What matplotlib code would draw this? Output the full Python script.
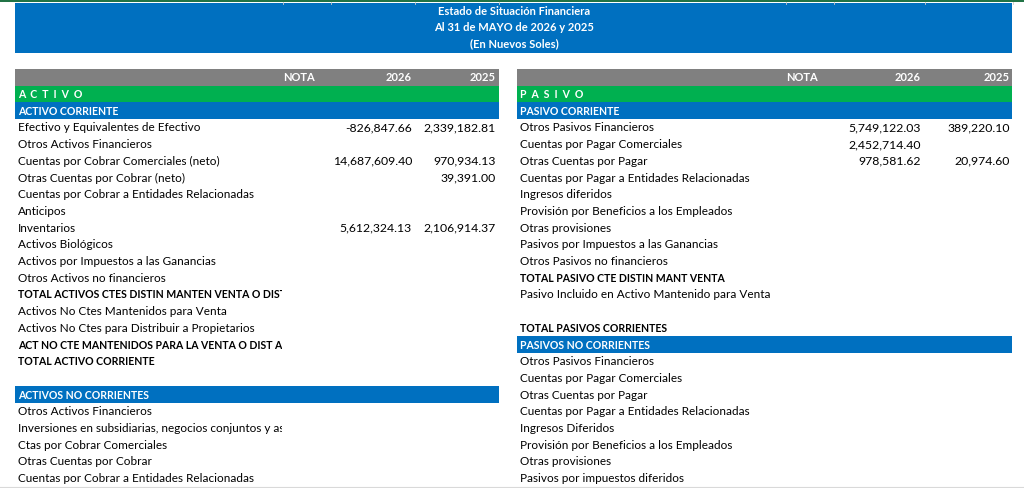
import matplotlib
matplotlib.use("Agg")
import matplotlib.pyplot as plt
from matplotlib.patches import Rectangle
from matplotlib.transforms import Bbox, TransformedBbox

# ---------------- data ----------------
title_lines = ["Estado de Situación Financiera", "Al 31 de MAYO de 2026 y 2025", "(En Nuevos Soles)"]
col_headers = ["NOTA", "2026", "2025"]

left_section = "A  C  T  I  V  O"
left_sub1 = "ACTIVO CORRIENTE"
left_labels = [
    "Efectivo y Equivalentes de Efectivo",
    "Otros Activos Financieros",
    "Cuentas por Cobrar Comerciales (neto)",
    "Otras Cuentas por Cobrar (neto)",
    "Cuentas por Cobrar a Entidades Relacionadas",
    "Anticipos",
    "Inventarios",
    "Activos Biológicos",
    "Activos por Impuestos a las Ganancias",
    "Otros Activos no financieros",
    "TOTAL ACTIVOS CTES DISTIN MANTEN VENTA O DISTRIBUIR",
    "Activos No Ctes Mantenidos para Venta",
    "Activos No Ctes para Distribuir a Propietarios",
    "ACT NO CTE MANTENIDOS PARA LA VENTA O DIST A PROPIETARIOS",
    "TOTAL ACTIVO CORRIENTE",
    "",
]
left_bold = [False, False, False, False, False, False, False, False, False, False,
             True, False, False, True, True, False]
left_2026 = ["-826,847.66", "", "14,687,609.40", "", "", "", "5,612,324.13", "", "", "", "", "", "", "", "", ""]
left_2025 = ["2,339,182.81", "", "970,934.13", "39,391.00", "", "", "2,106,914.37", "", "", "", "", "", "", "", "", ""]
left_sub2 = "ACTIVOS NO CORRIENTES"
left_labels2 = [
    "Otros Activos Financieros",
    "Inversiones en subsidiarias, negocios conjuntos y asociadas",
    "Ctas por Cobrar Comerciales",
    "Otras Cuentas por Cobrar",
    "Cuentas por Cobrar a Entidades Relacionadas",
]

right_section = "P  A  S  I  V  O"
right_sub1 = "PASIVO CORRIENTE"
right_labels = [
    "Otros Pasivos Financieros",
    "Cuentas por Pagar Comerciales",
    "Otras Cuentas por Pagar",
    "Cuentas por Pagar a Entidades Relacionadas",
    "Ingresos diferidos",
    "Provisión por Beneficios a los Empleados",
    "Otras provisiones",
    "Pasivos por Impuestos a las Ganancias",
    "Otros Pasivos no financieros",
    "TOTAL PASIVO CTE DISTIN MANT VENTA",
    "Pasivo Incluido en Activo Mantenido para Venta",
    "",
    "TOTAL PASIVOS CORRIENTES",
]
right_bold = [False] * 9 + [True, False, False, True]
right_2026 = ["5,749,122.03", "2,452,714.40", "978,581.62"] + [""] * 10
right_2025 = ["389,220.10", "", "20,974.60"] + [""] * 10
right_sub2 = "PASIVOS NO CORRIENTES"
right_labels2 = [
    "Otros Pasivos Financieros",
    "Cuentas por Pagar Comerciales",
    "Otras Cuentas por Pagar",
    "Cuentas por Pagar a Entidades Relacionadas",
    "Ingresos Diferidos",
    "Provisión por Beneficios a los Empleados",
    "Otras provisiones",
    "Pasivos por impuestos diferidos",
]

# ---------------- style ----------------
BLUE = "#0070C0"
GREEN = "#00B050"
GRAY = "#808080"
FONT = "Lato"
FS = 8.5        # regular body text
FS_NUM = 8.8    # numbers
FS_TITLE = 8.0  # bold mixed-case title
FS_CAPS = 7.6   # bold upper-case labels

fig = plt.figure(figsize=(10.24, 4.88), dpi=100)
ax = fig.add_axes([0, 0, 1, 1])
ax.set_xlim(0, 1024)
ax.set_ylim(488, 0)
ax.axis("off")

# top excel strip
ax.add_patch(Rectangle((0, 0), 1024, 1.6, color="#217346", lw=0))
for gx in [283, 331, 415, 499, 786, 834, 925, 1013]:
    ax.plot([gx, gx], [1.6, 3.5], color="#c8c8c8", lw=0.6)

# title band
ax.add_patch(Rectangle((15, 3), 997, 50, color=BLUE, lw=0))
for i, t in enumerate(title_lines):
    ax.text(514, 11.5 + i * 16.3, t, ha="center", va="center", color="white",
            fontsize=FS_TITLE, fontweight="bold", family=FONT)

TOP = 69.0
RH = 16.7


def row_top(k):
    return TOP + k * RH


def row_mid(k):
    return TOP + k * RH + RH / 2 + 0.5


def draw_table(x0, x1, nota_x, c26_x, c25_x, section, sub1, labels, bold, v26, v25,
               sub2, sub2_row, labels2, clip_right):
    # header
    ax.add_patch(Rectangle((x0, row_top(0)), x1 - x0, RH, color=GRAY, lw=0))
    ax.text(nota_x, row_mid(0), col_headers[0], ha="center", va="center", color="white",
            fontsize=FS_TITLE, fontweight="bold", family=FONT)
    ax.text(c26_x, row_mid(0), col_headers[1], ha="right", va="center", color="white",
            fontsize=FS_TITLE, fontweight="bold", family=FONT)
    ax.text(c25_x, row_mid(0), col_headers[2], ha="right", va="center", color="white",
            fontsize=FS_TITLE, fontweight="bold", family=FONT)
    # section
    ax.add_patch(Rectangle((x0, row_top(1)), x1 - x0, RH, color=GREEN, lw=0))
    ax.text(x0 + 3, row_mid(1), section, ha="left", va="center", color="white",
            fontsize=FS_CAPS, fontweight="bold", family=FONT)
    ax.add_patch(Rectangle((x0, row_top(2)), x1 - x0, RH, color=BLUE, lw=0))
    ax.text(x0 + 3, row_mid(2), sub1, ha="left", va="center", color="white",
            fontsize=FS_CAPS, fontweight="bold", family=FONT)
    clipbox = TransformedBbox(Bbox([[x0, 0], [clip_right, 488]]), ax.transData)
    for i, lab in enumerate(labels):
        k = 3 + i
        t = ax.text(x0 + 3, row_mid(k), lab, ha="left", va="center", color="black",
                    fontsize=FS_CAPS if bold[i] else FS,
                    fontweight="bold" if bold[i] else "normal", family=FONT)
        t.set_clip_box(clipbox)
        t.set_clip_on(True)
        if v26[i]:
            ax.text(c26_x, row_mid(k), v26[i], ha="right", va="center", color="black",
                    fontsize=FS_NUM, family=FONT)
        if v25[i]:
            ax.text(c25_x, row_mid(k), v25[i], ha="right", va="center", color="black",
                    fontsize=FS_NUM, family=FONT)
    ax.add_patch(Rectangle((x0, row_top(sub2_row)), x1 - x0, RH, color=BLUE, lw=0))
    ax.text(x0 + 3, row_mid(sub2_row), sub2, ha="left", va="center", color="white",
            fontsize=FS_CAPS, fontweight="bold", family=FONT)
    for i, lab in enumerate(labels2):
        k = sub2_row + 1 + i
        t = ax.text(x0 + 3, row_mid(k), lab, ha="left", va="center", color="black",
                    fontsize=FS, family=FONT)
        t.set_clip_box(clipbox)
        t.set_clip_on(True)


draw_table(15, 499, 299, 412, 496, left_section, left_sub1, left_labels, left_bold,
           left_2026, left_2025, left_sub2, 3 + len(left_labels), left_labels2, 282)
draw_table(517, 1012, 802, 921, 1010, right_section, right_sub1, right_labels, right_bold,
           right_2026, right_2025, right_sub2, 3 + len(right_labels), right_labels2, 786)

# bottom scroll strip line
ax.plot([0, 1024], [487.3, 487.3], color="#d9d9d9", lw=0.8)

fig.savefig("out.png", dpi=100)
